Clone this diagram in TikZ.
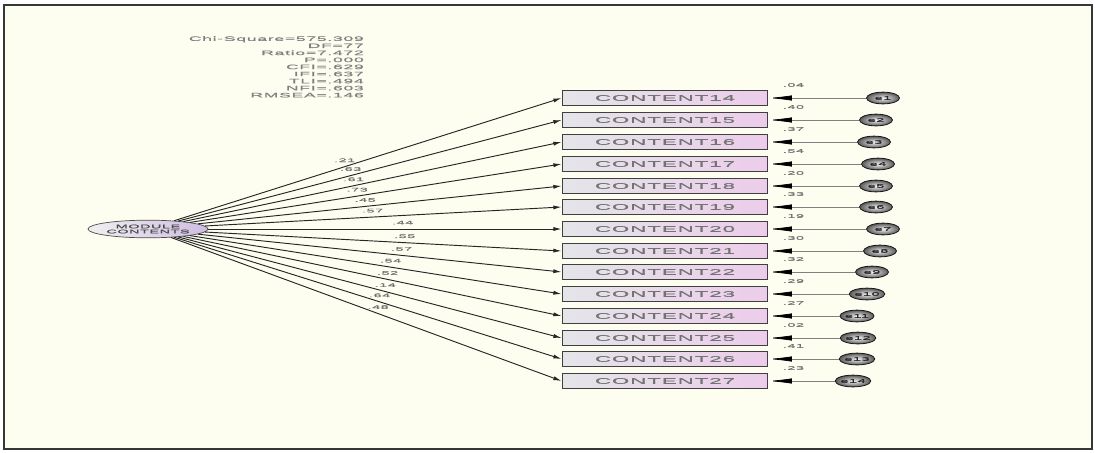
\documentclass[tikz,border=0pt]{standalone}
\usepackage{fontspec}
\usepackage{tikz}
\usetikzlibrary{shapes,arrows.meta,positioning,calc}
\newfontfamily\amosfont[FakeStretch=2.7,LetterSpace=12,FakeBold=0.6]{Liberation Sans}
\definecolor{amosIvory}{RGB}{254,254,240}
\definecolor{amosFrame}{RGB}{55,55,55}
\definecolor{boxGrey}{RGB}{228,229,233}
\definecolor{boxPink}{RGB}{236,204,234}
\definecolor{ovalLilac}{RGB}{206,188,226}

\tikzset{
  item/.style={draw=black!75, line width=0.8pt, minimum width=175pt, minimum height=12.5pt,
    inner sep=0pt, left color=boxGrey, right color=boxPink,
    font=\amosfont\fontsize{7}{7}\selectfont, text=black!55},
  factor/.style={ellipse, draw=black!70, line width=0.6pt, minimum width=102pt, minimum height=15pt,
    inner sep=0pt, left color=gray!12, right color=ovalLilac, align=center,
    font=\amosfont\fontsize{4.5}{4.3}\selectfont, text=black!70},
  errvar/.style={ellipse, draw=black!90, line width=0.7pt, minimum width=28pt, minimum height=10pt,
    inner sep=0pt, inner color=gray!10, outer color=black!65,
    font=\amosfont\fontsize{4.5}{4.5}\selectfont, text=black!85},
  loadarrow/.style={-{Latex[length=7pt,width=3.5pt]}, black!85, line width=0.8pt},
  errarrow/.style={-{Latex[length=20pt,width=4.5pt,black]}, black!50, line width=0.6pt},
  est/.style={font=\amosfont\fontsize{4.5}{4.5}\selectfont, text=black!55, inner sep=1pt},
  fitstats/.style={align=right, font=\amosfont\fontsize{5.5}{6}\selectfont, text=black!50, inner sep=0pt}
}

\begin{document}
\begin{tikzpicture}[x=0.85pt,y=-0.85pt]
    % Window frame
    \useasboundingbox (0,0) rectangle (1095,452);
    \fill[white] (0,0) rectangle (1095,452);
    \draw[amosFrame, line width=2.5pt, fill=amosIvory] (4,5) rectangle (1092,449);

    % Fit statistics
    \node[fitstats, anchor=north east] (fit) at (364,36)
        {Chi-Square=575.309\\DF=77\\Ratio=7.472\\P=.000\\CFI=.629\\IFI=.637\\TLI=.494\\NFI=.603\\RMSEA=.146};

    % Latent factor
    \node[factor] (mod) at (148,229) {MODULE\\CONTENTS};

    % Indicators, loadings, error terms
    \foreach \i/\y/\ld/\p/\rr/\ex [count=\k] in {
        14/98/.21/.44/.04/883, 15/120/.63/.45/.40/876, 16/142/.61/.45/.37/874,
        17/164/.73/.45/.54/878, 18/186/.45/.46/.20/876, 19/207/.57/.47/.33/876,
        20/229/.44/.55/.19/883, 21/251/.55/.56/.30/880, 22/272/.57/.56/.32/872,
        23/294/.54/.54/.29/867, 24/316/.52/.54/.27/857, 25/338/.14/.54/.02/858,
        26/359/.64/.53/.41/857, 27/381/.48/.53/.23/853}{
        \node[item] (c\i) at (665,\y) {CONTENT\i};
        \node[errvar] (e\k) at (\ex,\y) {e\k};
        \draw[loadarrow] (mod) -- node[est, pos=\p, above=2.5pt] {\ld} (c\i.west);
        \draw[errarrow] (e\k) -- (c\i.east);
        \node[est] (r\i) at ($(c\i.east)+(25,-13)$) {\rr};
    }
\end{tikzpicture}
\end{document}
